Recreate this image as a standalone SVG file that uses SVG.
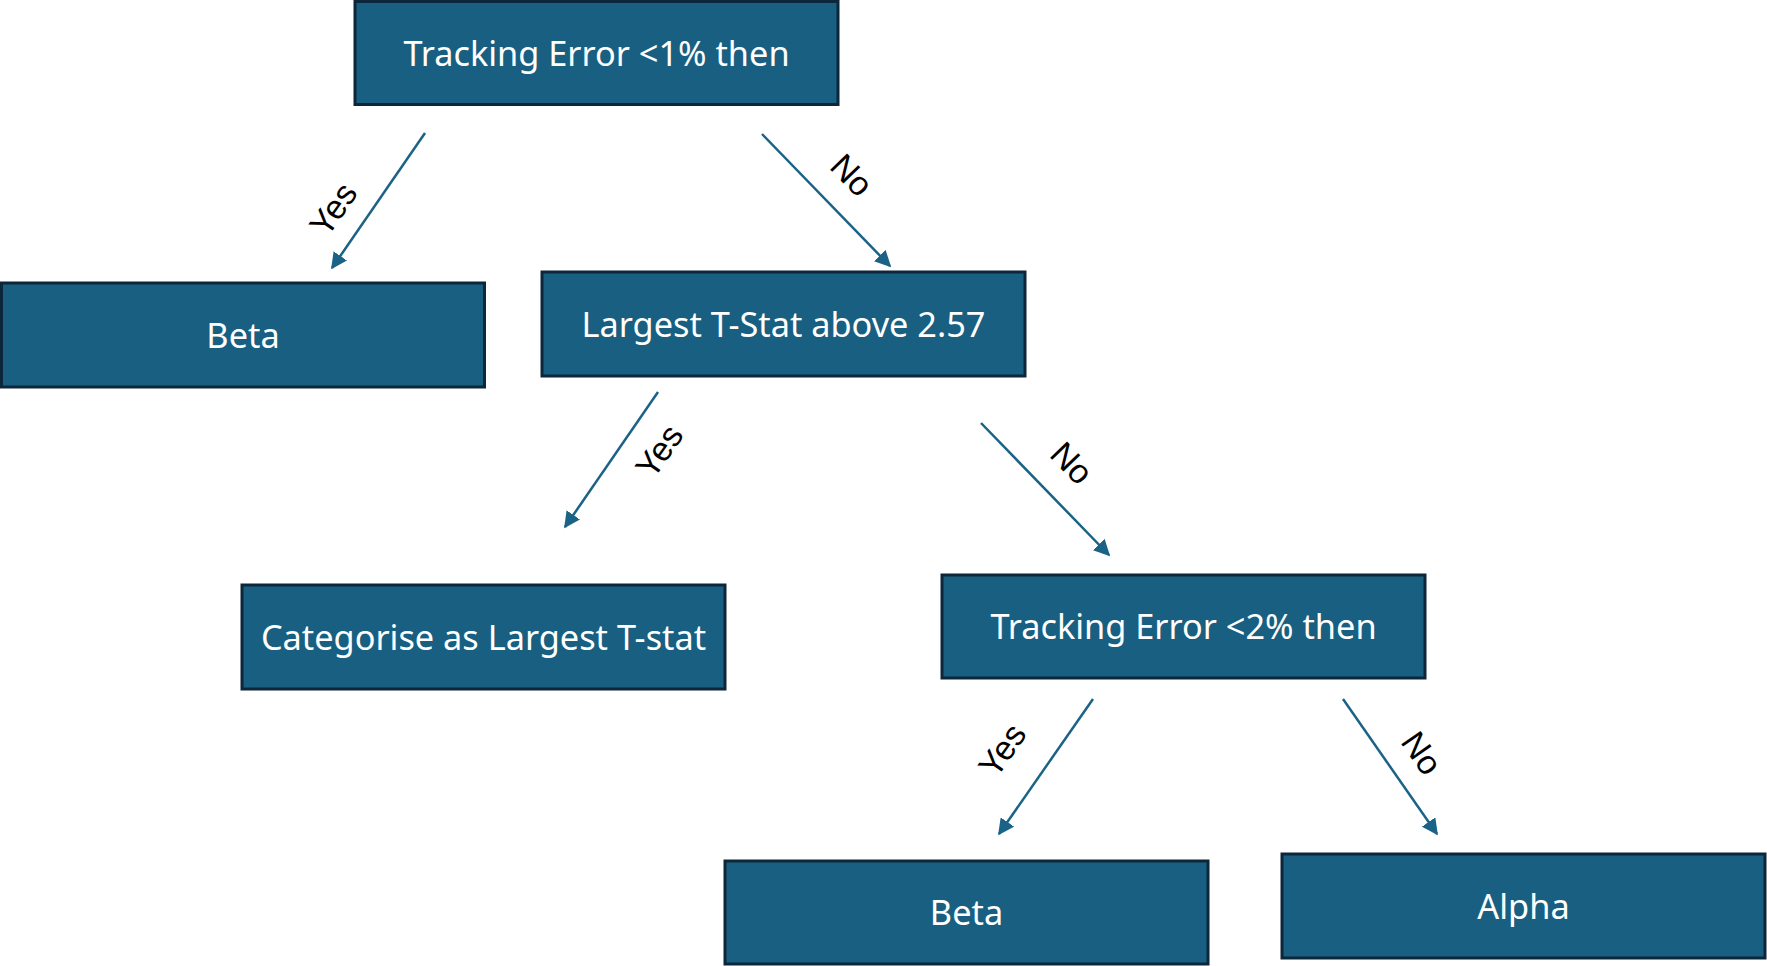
<svg xmlns="http://www.w3.org/2000/svg" width="1767" height="966" viewBox="0 0 1767 966">
<style>
.box{fill:#185f81;stroke:#0c2739;stroke-width:3}
.bt{font-family:"Noto Sans","Open Sans",sans-serif;font-size:34.3px;fill:#ffffff;text-anchor:middle;dominant-baseline:central}
.edge{stroke:#1a6387;stroke-width:2.5;fill:none;marker-end:url(#ah)}
.lbl{font-family:"Liberation Sans",Arial,sans-serif;font-size:34px;fill:#000000;text-anchor:middle;dominant-baseline:central}
</style>
<defs>
<marker id="ah" viewBox="0 0 10 10" refX="9" refY="5" markerWidth="6.5" markerHeight="6.5" orient="auto" markerUnits="strokeWidth">
<path d="M0,0 L10,5 L0,10 z" fill="#1a6387"/>
</marker>
</defs>
<rect width="1767" height="966" fill="#ffffff"/>
<g id="n1"><rect class="box" x="355" y="1.5" width="483" height="103"/><text class="bt" x="596.5" y="52">Tracking Error &lt;1% then</text></g>
<g id="n2"><rect class="box" x="1.5" y="283" width="483" height="104"/><text class="bt" x="243" y="334">Beta</text></g>
<g id="n3"><rect class="box" x="542" y="272" width="483" height="104"/><text class="bt" x="783.5" y="323">Largest T-Stat above 2.57</text></g>
<g id="n4"><rect class="box" x="242" y="585" width="483" height="104"/><text class="bt" x="483.5" y="636">Categorise as Largest T-stat</text></g>
<g id="n5"><rect class="box" x="942" y="575" width="483" height="103"/><text class="bt" x="1183.5" y="625.5">Tracking Error &lt;2% then</text></g>
<g id="n6"><rect class="box" x="725" y="861" width="483" height="103"/><text class="bt" x="966.5" y="911.5">Beta</text></g>
<g id="n7"><rect class="box" x="1282" y="854" width="483" height="104"/><text class="bt" x="1523.5" y="905">Alpha</text></g>
<g id="connectors">
<line class="edge" x1="425" y1="133" x2="332" y2="268"/>
<line class="edge" x1="762" y1="134" x2="890" y2="266"/>
<line class="edge" x1="658" y1="392" x2="565" y2="527"/>
<line class="edge" x1="981" y1="423" x2="1109" y2="555"/>
<line class="edge" x1="1093" y1="699" x2="999" y2="834"/>
<line class="edge" x1="1343" y1="699" x2="1437" y2="834"/>
<text class="lbl" transform="translate(333,209) rotate(-55)">Yes</text>
<text class="lbl" transform="translate(852,175) rotate(46)">No</text>
<text class="lbl" transform="translate(659,451) rotate(-55)">Yes</text>
<text class="lbl" transform="translate(1072,463) rotate(46)">No</text>
<text class="lbl" transform="translate(1002,750) rotate(-55)">Yes</text>
<text class="lbl" transform="translate(1422,753) rotate(55)">No</text>
</g>
</svg>
